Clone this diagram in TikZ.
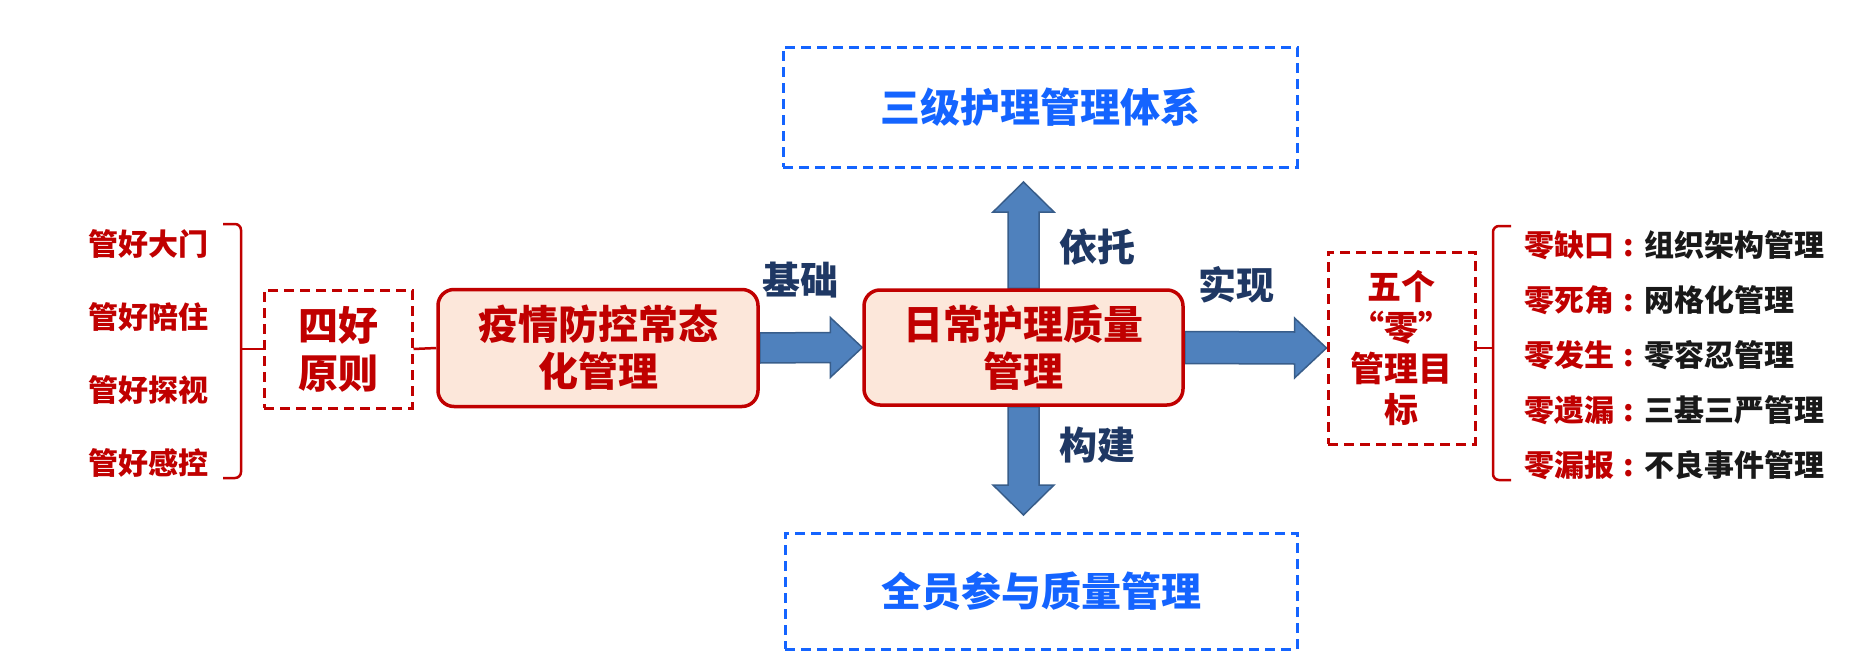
\documentclass[tikz,border=0pt]{standalone}
\usepackage{fontspec}
\setmainfont{Noto Sans CJK SC}
\usetikzlibrary{calc,backgrounds}
\definecolor{boxred}{RGB}{192,0,0}
\definecolor{peach}{RGB}{252,231,218}
\definecolor{dashblue}{RGB}{20,100,255}
\definecolor{arrowfill}{RGB}{79,129,189}
\definecolor{arrowedge}{RGB}{56,93,138}
\definecolor{navy}{RGB}{31,56,100}
\definecolor{txtdark}{RGB}{25,25,25}
\newcommand{\zcolon}{\makebox[30pt][c]{:}}
\tikzset{
  mainbox/.style={draw=boxred, line width=3.5pt, fill=peach, rounded corners=16pt, text=boxred,
    font=\bfseries\fontsize{40}{47}\selectfont, align=center, inner sep=0pt},
  reddash/.style={draw=boxred, line width=3pt, dash pattern=on 10pt off 6pt, text=boxred,
    align=center, inner sep=0pt},
  bluedash/.style={draw=dashblue, line width=3pt, dash pattern=on 10pt off 6pt, text=dashblue,
    font=\bfseries\fontsize{40}{48}\selectfont, inner sep=0pt},
  barrow/.style={fill=arrowfill, draw=arrowedge, line width=1.5pt, line join=miter},
  lbl/.style={text=navy, font=\bfseries\fontsize{38}{44}\selectfont, inner sep=0pt},
  leftitem/.style={text=boxred, font=\bfseries\fontsize{30}{36}\selectfont, inner sep=0pt},
  rightitem/.style={anchor=west, text=txtdark, font=\bfseries\fontsize{30}{36}\selectfont, inner sep=0pt},
  bracketline/.style={draw=boxred, line width=2.5pt, rounded corners=6pt},
}
\begin{document}
\begin{tikzpicture}[x=1pt,y=-1pt]
\useasboundingbox (0,0) rectangle (1875,653);
% boxes
\node[bluedash, minimum width=514pt, minimum height=120pt] (top) at (1040,107) {三级护理管理体系};
\node[bluedash, minimum width=512pt, minimum height=116pt] (bottom) at (1041,591) {全员参与质量管理};
\node[mainbox, minimum width=320pt, minimum height=117pt] (yiqing) at (598,348) {疫情防控常态\\化管理};
\node[mainbox, minimum width=319pt, minimum height=115pt] (center) at (1023.5,347.5) {日常护理质量\\管理};
\node[reddash, minimum width=148pt, minimum height=118pt, font=\bfseries\fontsize{40}{48}\selectfont] (sihao) at (338,349) {四好\\原则};
\node[reddash, minimum width=147pt, minimum height=192pt, font=\bfseries\fontsize{34}{41}\selectfont] (wuge) at (1401.5,348) {五个\\“零”\\管理目\\标};
% arrow tips
\coordinate (uptip) at (1023.5,182);
\coordinate (downtip) at (1023.5,515);
\begin{scope}[on background layer]
\filldraw[barrow] ($(yiqing.east)+(0,-15)$) -- ($(center.west)+(-32,-15)$) -- ($(center.west)+(-32,-30)$)
  -- (center.west) -- ($(center.west)+(-32,30)$) -- ($(center.west)+(-32,15)$) -- ($(yiqing.east)+(0,15)$) -- cycle;
\filldraw[barrow] ($(center.east)+(0,-16)$) -- ($(wuge.west)+(-32,-16)$) -- ($(wuge.west)+(-32,-30)$)
  -- (wuge.west) -- ($(wuge.west)+(-32,30)$) -- ($(wuge.west)+(-32,16)$) -- ($(center.east)+(0,16)$) -- cycle;
\filldraw[barrow] ($(center.north)+(-15.5,0)$) -- ($(uptip)+(-15.5,30)$) -- ($(uptip)+(-30.5,30)$)
  -- (uptip) -- ($(uptip)+(30.5,30)$) -- ($(uptip)+(15.5,30)$) -- ($(center.north)+(15.5,0)$) -- cycle;
\filldraw[barrow] ($(center.south)+(-15.5,0)$) -- ($(downtip)+(-15.5,-30)$) -- ($(downtip)+(-30.5,-30)$)
  -- (downtip) -- ($(downtip)+(30.5,-30)$) -- ($(downtip)+(15.5,-30)$) -- ($(center.south)+(15.5,0)$) -- cycle;
\end{scope}
% arrow labels
\node[lbl] (jichu) at (800,280) {基础};
\node[lbl] (yituo) at (1097,247) {依托};
\node[lbl] (goujian) at (1097,445) {构建};
\node[lbl] (shixian) at (1236,285) {实现};
% left list
\node[leftitem] (l1) at (148,244) {管好大门};
\node[leftitem] (l2) at (148,317) {管好陪住};
\node[leftitem] (l3) at (148,390) {管好探视};
\node[leftitem] (l4) at (148,463) {管好感控};
\coordinate (lbt) at (223,224);
\coordinate (lbb) at (223,478);
\coordinate (lbm) at (241,349);
\draw[bracketline] (lbt) -- (241,224) -- (241,478) -- (lbb);
\draw[bracketline] (lbm) -- (sihao.west);
\draw[draw=boxred, line width=2.5pt] (sihao.east) -- (yiqing.west);
% right list
\node[rightitem] (r1) at (1524,245) {\textcolor{boxred}{零缺口\zcolon}组织架构管理};
\node[rightitem] (r2) at (1524,300) {\textcolor{boxred}{零死角\zcolon}网格化管理};
\node[rightitem] (r3) at (1524,355) {\textcolor{boxred}{零发生\zcolon}零容忍管理};
\node[rightitem] (r4) at (1524,410) {\textcolor{boxred}{零遗漏\zcolon}三基三严管理};
\node[rightitem] (r5) at (1524,465) {\textcolor{boxred}{零漏报\zcolon}不良事件管理};
\coordinate (rbt) at (1511,226);
\coordinate (rbb) at (1511,480);
\coordinate (rbm) at (1493,348);
\draw[bracketline] (rbt) -- (1493,226) -- (1493,480) -- (rbb);
\draw[bracketline] (rbm) -- (wuge.east);
\end{tikzpicture}
\end{document}
